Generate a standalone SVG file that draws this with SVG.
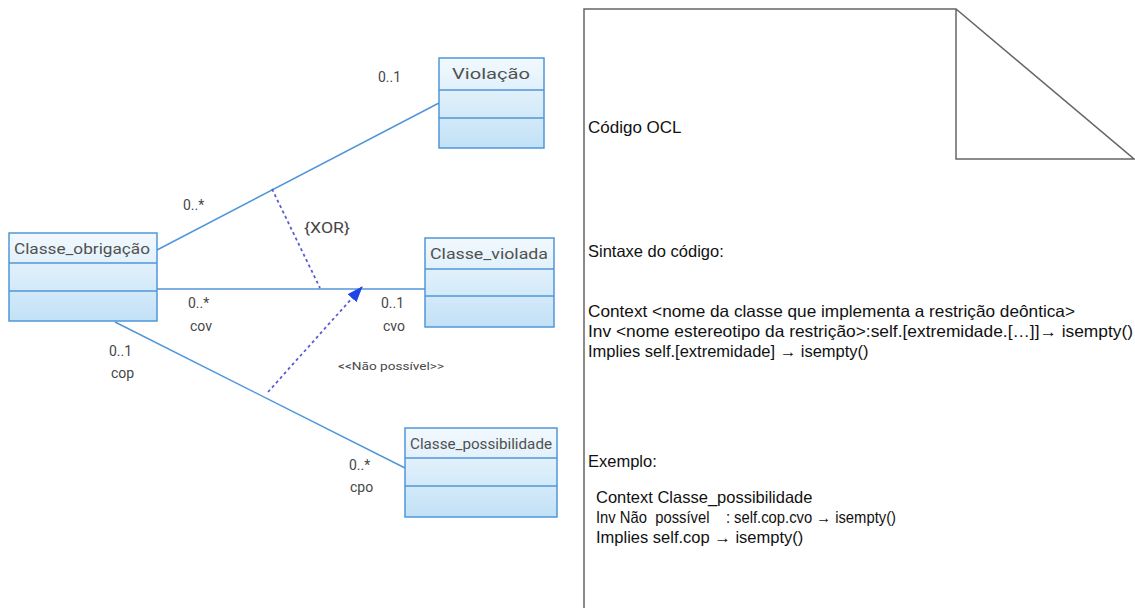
<svg xmlns="http://www.w3.org/2000/svg" width="1135" height="608" viewBox="0 0 1135 608">
<defs>
<linearGradient id="g" x1="0" y1="0" x2="0" y2="1">
<stop offset="0" stop-color="#f2f9fe"/>
<stop offset="1" stop-color="#c2e1f6"/>
</linearGradient>
<marker id="arr" markerWidth="16" markerHeight="12" refX="15" refY="6" orient="auto" markerUnits="userSpaceOnUse">
<path d="M0,0 L16,6 L0,12 Z" fill="#1f45e6"/>
</marker>
<style>
.box{fill:url(#g);stroke:#5096da;stroke-width:1.5}
.div{stroke:#5096da;stroke-width:1.5}
.name{font-family:Roboto,"Liberation Sans",sans-serif;font-size:14px;fill:#505050}
.lbl{font-family:Roboto,"Liberation Sans",sans-serif;font-size:14px;fill:#474747}
.assoc{stroke:#5096da;stroke-width:1.5;fill:none}
.dash{stroke:#5a5cd6;stroke-width:1.8;stroke-dasharray:3,3;fill:none}
.note{stroke:#666;stroke-width:1.5;fill:none}
.txt{font-family:"Liberation Sans",Arial,sans-serif;font-size:16.5px;fill:#111}
</style>
</defs>
<rect width="1135" height="608" fill="#fff"/>

<g id="connectors">
<line class="assoc" x1="157" y1="250" x2="439" y2="103"/>
<line class="assoc" x1="157" y1="289" x2="425" y2="289"/>
<line class="assoc" x1="115" y1="322" x2="405" y2="468"/>
<line class="dash" x1="272" y1="189" x2="320" y2="288"/>
<line class="dash" x1="268" y1="392" x2="362" y2="287" marker-end="url(#arr)"/>
<text class="lbl" x="378" y="82">0..1</text>
<text class="lbl" x="183" y="210">0..*</text>
<text class="lbl" x="304" y="233" textLength="46" lengthAdjust="spacingAndGlyphs">{XOR}</text>
<text class="lbl" x="188" y="308">0..*</text>
<text class="lbl" x="190" y="331">cov</text>
<text class="lbl" x="381" y="308">0..1</text>
<text class="lbl" x="383" y="331">cvo</text>
<text class="lbl" x="109" y="356">0..1</text>
<text class="lbl" x="111" y="378">cop</text>
<text class="lbl" x="338" y="370" style="font-size:11px" textLength="106" lengthAdjust="spacingAndGlyphs">&lt;&lt;Não possível&gt;&gt;</text>
<text class="lbl" x="349" y="470">0..*</text>
<text class="lbl" x="350" y="492">cpo</text>
</g>

<g id="Classe_obrigacao">
<rect class="box" x="9" y="233" width="148" height="88"/>
<line class="div" x1="9" y1="263" x2="157" y2="263"/>
<line class="div" x1="9" y1="291" x2="157" y2="291"/>
<text class="name" x="14" y="254" textLength="136" lengthAdjust="spacingAndGlyphs">Classe_obrigação</text>
</g>

<g id="Violacao">
<rect class="box" x="439" y="58" width="105" height="90"/>
<line class="div" x1="439" y1="90" x2="544" y2="90"/>
<line class="div" x1="439" y1="118" x2="544" y2="118"/>
<text class="name" x="452" y="79" textLength="78" lengthAdjust="spacingAndGlyphs">Violação</text>
</g>

<g id="Classe_violada">
<rect class="box" x="425" y="238" width="129" height="89"/>
<line class="div" x1="425" y1="269" x2="554" y2="269"/>
<line class="div" x1="425" y1="296" x2="554" y2="296"/>
<text class="name" x="430" y="259" textLength="118" lengthAdjust="spacingAndGlyphs">Classe_violada</text>
</g>

<g id="Classe_possibilidade">
<rect class="box" x="405" y="428" width="152" height="89"/>
<line class="div" x1="405" y1="458" x2="557" y2="458"/>
<line class="div" x1="405" y1="486" x2="557" y2="486"/>
<text class="name" x="410" y="449" textLength="142" lengthAdjust="spacingAndGlyphs">Classe_possibilidade</text>
</g>

<g id="nota_ocl">
<path class="note" d="M584,608 L584,9 L956,9 L1134,159 L956,159 L956,9"/>
<text class="txt" x="588" y="133" style="font-size:17px">Código OCL</text>
<text class="txt" x="588" y="257">Sintaxe do código:</text>
<text class="txt" x="588" y="317" textLength="487" lengthAdjust="spacingAndGlyphs">Context &lt;nome da classe que implementa a restrição deôntica&gt;</text>
<text class="txt" x="588" y="337" textLength="545" lengthAdjust="spacingAndGlyphs">Inv &lt;nome estereotipo da restrição&gt;:self.[extremidade.[…]]→ isempty()</text>
<text class="txt" x="588" y="357">Implies self.[extremidade] → isempty()</text>
<text class="txt" x="588" y="467">Exemplo:</text>
<text class="txt" x="596" y="503">Context Classe_possibilidade</text>
<text class="txt" x="596" y="523" textLength="300" lengthAdjust="spacingAndGlyphs" xml:space="preserve">Inv Não  possível    : self.cop.cvo → isempty()</text>
<text class="txt" x="596" y="543">Implies self.cop → isempty()</text>
</g>
</svg>
